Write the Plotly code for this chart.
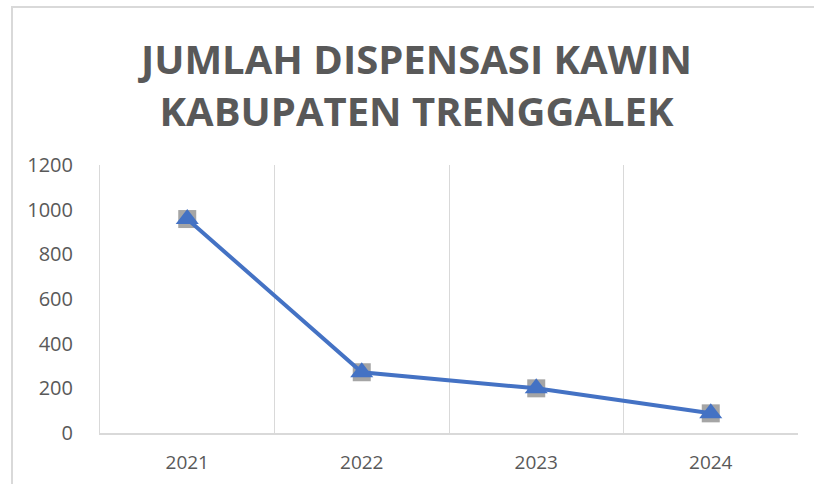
import plotly.graph_objects as go

years = ["2021", "2022", "2023", "2024"]
values = [958, 272, 200, 88]
y_ticks = [0, 200, 400, 600, 800, 1000, 1200]
title_text = "JUMLAH DISPENSASI KAWIN<br>KABUPATEN TRENGGALEK"

fig = go.Figure()
fig.add_trace(go.Scatter(
    x=years, y=values, mode="markers",
    marker=dict(symbol="square", size=18, color="#A5A5A5"),
    hoverinfo="skip", showlegend=False,
))
fig.add_trace(go.Scatter(
    x=years, y=values, mode="lines+markers",
    line=dict(color="#4472C4", width=4),
    marker=dict(symbol="triangle-up", size=20, color="#4472C4"),
    showlegend=False,
))

fig.update_layout(
    width=814, height=484,
    margin=dict(l=100, r=16, t=165, b=51, autoexpand=False),
    paper_bgcolor="white", plot_bgcolor="white",
    title=dict(
        text=title_text,
        x=0.5117, xanchor="center", xref="container",
        y=1 - 74 / 484, yanchor="middle", yref="container",
        font=dict(family="Open Sans", size=40, color="#595959", weight="bold"),
    ),
    xaxis=dict(
        type="category", range=[-0.5, 3.5], automargin=False,
        tickson="boundaries", showgrid=True, gridcolor="#D9D9D9", gridwidth=1,
        showline=True, linecolor="#D9D9D9", linewidth=1.5,
        ticks="", ticklabelstandoff=11,
        tickfont=dict(family="Open Sans", size=19, color="#595959"),
        zeroline=False,
    ),
    yaxis=dict(
        range=[0, 1200], tickvals=y_ticks, automargin=False,
        showgrid=False, zeroline=False,
        showline=True, linecolor="#D9D9D9", linewidth=1,
        ticks="", ticklabelstandoff=22,
        tickfont=dict(family="Open Sans", size=20, color="#595959"),
    ),
    shapes=[dict(
        type="rect", xref="paper", yref="paper",
        x0=(12 - 100) / 698, x1=(830 - 100) / 698,
        y0=(433 - 500) / 268, y1=(433 - 7) / 268,
        line=dict(color="#D9D9D9", width=2), fillcolor="rgba(0,0,0,0)",
        layer="below",
    )],
)

fig.write_html("out.html")
